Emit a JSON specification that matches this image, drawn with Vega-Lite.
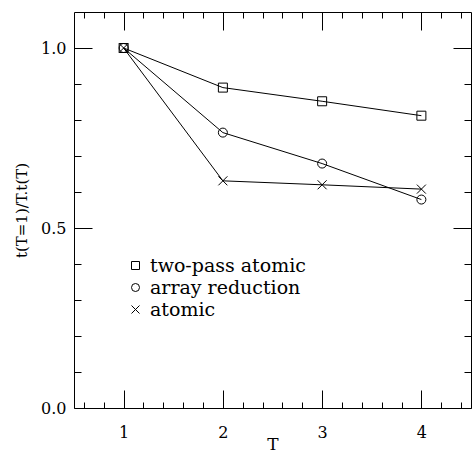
{
  "$schema": "https://vega.github.io/schema/vega-lite/v6.json",
  "width": 397,
  "height": 396,
  "autosize": {"type": "none"},
  "padding": {"left": 74, "top": 12, "right": 1, "bottom": 49},
  "config": {
    "font": "'DejaVu Serif', 'Liberation Serif', serif",
    "view": {"stroke": "black", "strokeWidth": 1},
    "axis": {
      "domain": false,
      "grid": false,
      "tickColor": "black",
      "tickWidth": 1,
      "labelColor": "black",
      "labelFont": "'DejaVu Serif', 'Liberation Serif', serif",
      "labelFontSize": 16,
      "titleColor": "black",
      "titleFont": "'DejaVu Serif', 'Liberation Serif', serif",
      "titleFontSize": 17,
      "titleFontWeight": "normal"
    },
    "legend": {
      "labelFont": "'DejaVu Serif', 'Liberation Serif', serif",
      "labelFontSize": 19,
      "labelColor": "black"
    }
  },
  "data": {
    "values": [
      {"series": "two-pass atomic", "T": 1, "ratio": 1.0},
      {"series": "two-pass atomic", "T": 2, "ratio": 0.89},
      {"series": "two-pass atomic", "T": 3, "ratio": 0.852},
      {"series": "two-pass atomic", "T": 4, "ratio": 0.812},
      {"series": "array reduction", "T": 1, "ratio": 1.0},
      {"series": "array reduction", "T": 2, "ratio": 0.765},
      {"series": "array reduction", "T": 3, "ratio": 0.679},
      {"series": "array reduction", "T": 4, "ratio": 0.579},
      {"series": "atomic", "T": 1, "ratio": 1.0},
      {"series": "atomic", "T": 2, "ratio": 0.631},
      {"series": "atomic", "T": 3, "ratio": 0.62},
      {"series": "atomic", "T": 4, "ratio": 0.608}
    ]
  },
  "layer": [
    {
      "mark": {"type": "line", "color": "black", "strokeWidth": 1},
      "encoding": {
        "x": {
          "field": "T", "type": "quantitative",
          "scale": {"domain": [0.5, 4.5], "nice": false, "zero": false},
          "axis": {"orient": "bottom", "values": [1, 2, 3, 4], "tickSize": -18, "labelPadding": 34, "format": "d", "title": "T", "titlePadding": -4}
        },
        "y": {
          "field": "ratio", "type": "quantitative",
          "scale": {"domain": [0, 1.1], "nice": false, "zero": true},
          "axis": {"orient": "left", "values": [0, 0.5, 1.0], "tickSize": -18, "labelPadding": 26, "format": ".1f", "title": "t(T=1)/T.t(T)", "titlePadding": 11, "titleFontSize": 15}
        },
        "detail": {"field": "series"}
      }
    },
    {
      "mark": {"type": "point", "filled": false, "color": "black", "strokeWidth": 1, "size": 81, "opacity": 1},
      "encoding": {
        "x": {
          "field": "T", "type": "quantitative",
          "axis": {"orient": "bottom", "values": [0.6, 0.8, 1.2, 1.4, 1.6, 1.8, 2.2, 2.4, 2.6, 2.8, 3.2, 3.4, 3.6, 3.8, 4.2, 4.4], "tickSize": -6, "labels": false, "title": null}
        },
        "y": {
          "field": "ratio", "type": "quantitative",
          "axis": {"orient": "left", "values": [0.1, 0.2, 0.3, 0.4, 0.6, 0.7, 0.8, 0.9], "tickSize": -7, "labels": false, "title": null}
        },
        "shape": {
          "field": "series", "type": "nominal",
          "scale": {
            "domain": ["two-pass atomic", "array reduction", "atomic"],
            "range": ["square", "circle", "M-1,-1L1,1M-1,1L1,-1"]
          },
          "legend": {
            "orient": "none",
            "legendX": 52,
            "legendY": 244,
            "title": null,
            "padding": 0,
            "symbolSize": 64,
            "symbolStrokeColor": "black",
            "symbolFillColor": "transparent",
            "symbolStrokeWidth": 1,
            "rowPadding": 2,
            "labelOffset": 5
          }
        }
      }
    },
    {
      "mark": {"type": "point", "opacity": 0},
      "encoding": {
        "x": {
          "field": "T", "type": "quantitative",
          "axis": {"orient": "top", "values": [1, 2, 3, 4], "tickSize": -18, "labels": false, "title": null}
        },
        "y": {
          "field": "ratio", "type": "quantitative",
          "axis": {"orient": "right", "values": [0, 0.5, 1.0], "tickSize": -18, "labels": false, "title": null}
        }
      }
    },
    {
      "mark": {"type": "point", "opacity": 0},
      "encoding": {
        "x": {
          "field": "T", "type": "quantitative",
          "axis": {"orient": "top", "values": [0.6, 0.8, 1.2, 1.4, 1.6, 1.8, 2.2, 2.4, 2.6, 2.8, 3.2, 3.4, 3.6, 3.8, 4.2, 4.4], "tickSize": -6, "labels": false, "title": null}
        },
        "y": {
          "field": "ratio", "type": "quantitative",
          "axis": {"orient": "right", "values": [0.1, 0.2, 0.3, 0.4, 0.6, 0.7, 0.8, 0.9], "tickSize": -7, "labels": false, "title": null}
        }
      }
    }
  ],
  "resolve": {"axis": {"x": "independent", "y": "independent"}}
}
